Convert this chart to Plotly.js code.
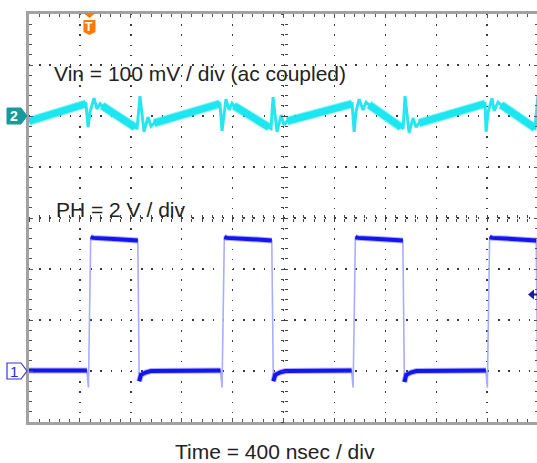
<!DOCTYPE html>
<html>
<head>
<meta charset="utf-8">
<script src="https://cdn.plot.ly/plotly-3.0.1.min.js"></script>
<style>
html,body{margin:0;padding:0;background:#fff;overflow:hidden;}
#chart{width:538px;height:463px;}
</style>
</head>
<body>
<div id="chart"></div>
<script>
// ---- data (time in ns) ----
const ch1_t = [0, 455, 467, 485, 505, 700, 855, 866, 880, 920, 960,
  1505, 1517, 1535, 1555, 1750, 1908, 1920, 1935, 1975, 2015,
  2535, 2547, 2565, 2585, 2780, 2938, 2950, 2965, 3005, 3045,
  3590, 3602, 3620, 3640, 3830, 3986, 3996, 4000];
const ch1_V = [0.02, 0.02, -0.65, 5.25, 5.22, 5.17, 5.12, -0.40, -0.15, -0.05, 0.0,
  0.02, -0.65, 5.25, 5.22, 5.17, 5.12, -0.40, -0.15, -0.05, 0.0,
  0.02, -0.65, 5.25, 5.22, 5.17, 5.12, -0.43, -0.15, -0.05, 0.0,
  0.02, -0.65, 5.25, 5.22, 5.17, 5.12, 0.3, -0.3];

const ch2_t = [0, 448, 464, 480, 511, 534, 558, 574, 833, 849, 872, 904, 935, 959, 983,
  1501, 1517, 1533, 1548, 1572, 1596, 1611, 1886, 1902, 1918, 1949, 1981, 2004, 2028,
  2539, 2555, 2570, 2594, 2625, 2649, 2672, 2924, 2940, 2955, 2987, 3018, 3042, 3065,
  3584, 3592, 3608, 3639, 3655, 3686, 3710, 3977, 3993, 4000];
const ch2_mV = [-10, 24, -22, 8, 35, 14, 24, 20, -22, -25, 39, -31, -2, -20, -14,
  24, -29, 8, 33, 12, 25, 20, -22, -25, 37, -31, 2, -18, -10,
  24, -31, 8, 33, 12, 27, 22, -22, -25, 39, -33, -4, -22, -14,
  24, -31, 8, 35, 10, 27, 22, -24, 31, 41];

const timeRange = [0, 4000];      // 10 div x 400 ns
const ch1Range = [-2, 14];        // 8 div x 2 V  (ground at -3 div)
const ch2Range = [-600, 200];     // 8 div x 100 mV (ground at +2 div)
const trigTime = 475;             // ns
const trigLevel = 3.0;            // V on ch1

const texts = {
  vin: 'Vin = 100 mV / div (ac coupled)',
  ph: 'PH = 2 V / div',
  time: 'Time = 400 nsec / div'
};

// split a waveform into the parts that satisfy keep(i) for segment i..i+1
function pick(t, v, keep) {
  const x = [], y = [];
  for (let i = 0; i < t.length - 1; i++) {
    if (keep(i)) {
      if (x.length === 0 || x[x.length - 1] !== t[i]) { x.push(t[i]); y.push(v[i]); }
      x.push(t[i + 1]); y.push(v[i + 1]);
    } else if (x.length && x[x.length - 1] !== null) { x.push(null); y.push(null); }
  }
  return {x, y};
}

const ch1Flat = pick(ch1_t, ch1_V, i => Math.abs(ch1_V[i + 1] - ch1_V[i]) < 0.5);
const ch2Ramp = pick(ch2_t, ch2_mV, i => (ch2_t[i + 1] - ch2_t[i]) >= 100);

const traces = [
  {x: ch2_t, y: ch2_mV, yaxis: 'y2', mode: 'lines', line: {color: '#28e6f0', width: 3}, hoverinfo: 'skip'},
  {x: ch2Ramp.x, y: ch2Ramp.y, yaxis: 'y2', mode: 'lines', line: {color: 'rgba(40,232,242,0.55)', width: 9}, hoverinfo: 'skip', connectgaps: false},
  {x: ch2Ramp.x, y: ch2Ramp.y, yaxis: 'y2', mode: 'lines', line: {color: '#1ce6f0', width: 7}, hoverinfo: 'skip', connectgaps: false},
  {x: ch1_t, y: ch1_V, mode: 'lines', line: {color: '#a8aeff', width: 1.6}, hoverinfo: 'skip'},
  {x: ch1Flat.x, y: ch1Flat.y, mode: 'lines', line: {color: 'rgba(60,60,255,0.4)', width: 6}, hoverinfo: 'skip', connectgaps: false},
  {x: ch1Flat.x, y: ch1Flat.y, mode: 'lines', line: {color: '#1414ee', width: 4}, hoverinfo: 'skip', connectgaps: false},
  // empty traces to activate the centre-line tick axes
  {x: [], y: [], xaxis: 'x2', yaxis: 'y', mode: 'lines', hoverinfo: 'skip'},
  {x: [], y: [], xaxis: 'x3', yaxis: 'y', mode: 'lines', hoverinfo: 'skip'},
  {x: [], y: [], xaxis: 'x', yaxis: 'y3', mode: 'lines', hoverinfo: 'skip'},
  {x: [], y: [], xaxis: 'x', yaxis: 'y4', mode: 'lines', hoverinfo: 'skip'}
];

const gridStyle = {
  showgrid: true, gridcolor: '#3a3a3a', gridwidth: 1.4, griddash: '1.4px,8.8px',
  zeroline: false, showticklabels: false,
  ticks: 'inside', ticklen: 4, tickcolor: '#555', tickwidth: 1,
  minor: {ticks: 'inside', ticklen: 3, tickcolor: '#555', tickwidth: 1, showgrid: false},
  showline: true, linecolor: '#a2a2a2', linewidth: 3, mirror: 'ticks', fixedrange: true
};
const centreTicks = {showgrid: false, zeroline: false, showline: false, showticklabels: false,
  ticklen: 3, tickcolor: '#444', tickwidth: 1, fixedrange: true};

const ch1Zero = (0 - ch1Range[0]) / (ch1Range[1] - ch1Range[0]);
const ch2Zero = (0 - ch2Range[0]) / (ch2Range[1] - ch2Range[0]);
const trigX = (trigTime - timeRange[0]) / (timeRange[1] - timeRange[0]);
const trigY = (trigLevel - ch1Range[0]) / (ch1Range[1] - ch1Range[0]);

const marker = 'M -22,-8 L -8,-8 L -2,0 L -8,8 L -22,8 Z';

const layout = {
  width: 538, height: 463,
  margin: {l: 29, r: 0, t: 14, b: 41},
  paper_bgcolor: '#ffffff', plot_bgcolor: '#ffffff',
  showlegend: false,
  font: {family: 'Liberation Sans, Arial, sans-serif', color: '#222'},
  xaxis: Object.assign({}, gridStyle, {range: timeRange, tick0: 0, dtick: 400, minor: Object.assign({}, gridStyle.minor, {dtick: 80})}),
  yaxis: Object.assign({}, gridStyle, {range: ch1Range, tick0: 0, dtick: 2, minor: Object.assign({}, gridStyle.minor, {dtick: 0.4})}),
  yaxis2: {range: ch2Range, overlaying: 'y', visible: false, fixedrange: true},
  xaxis2: Object.assign({}, centreTicks, {range: timeRange, overlaying: 'x', anchor: 'free', position: 0.5, tick0: 0, dtick: 80, ticks: 'inside'}),
  xaxis3: Object.assign({}, centreTicks, {range: timeRange, overlaying: 'x', anchor: 'free', position: 0.5, tick0: 0, dtick: 80, ticks: 'outside'}),
  yaxis3: Object.assign({}, centreTicks, {range: ch1Range, overlaying: 'y', anchor: 'free', position: 0.5, tick0: 0, dtick: 0.4, ticks: 'inside'}),
  yaxis4: Object.assign({}, centreTicks, {range: ch1Range, overlaying: 'y', anchor: 'free', position: 0.5, tick0: 0, dtick: 0.4, ticks: 'outside'}),
  shapes: [
    // channel 2 marker (filled teal)
    {type: 'path', xref: 'paper', yref: 'paper', xsizemode: 'pixel', ysizemode: 'pixel',
     xanchor: 0, yanchor: ch2Zero, path: marker, fillcolor: '#169a9a', line: {color: '#169a9a', width: 1}},
    // channel 1 marker (outlined blue)
    {type: 'path', xref: 'paper', yref: 'paper', xsizemode: 'pixel', ysizemode: 'pixel',
     xanchor: 0, yanchor: ch1Zero, path: marker, fillcolor: '#ffffff', line: {color: '#3535e0', width: 1.2}},
    // trigger position marker (orange)
    {type: 'path', xref: 'paper', yref: 'paper', xsizemode: 'pixel', ysizemode: 'pixel',
     xanchor: trigX, yanchor: 1, path: 'M -6,1 L 6,1 L 0,-4 Z', fillcolor: '#ff7a00', line: {width: 0}},
    {type: 'path', xref: 'paper', yref: 'paper', xsizemode: 'pixel', ysizemode: 'pixel',
     xanchor: trigX, yanchor: 1, path: 'M -6,-6 L 6,-6 L 6,-18 L 0,-21 L -6,-18 Z', fillcolor: '#ff7a00', line: {width: 0}},
    // trigger level marker (right edge)
    {type: 'path', xref: 'paper', yref: 'paper', xsizemode: 'pixel', ysizemode: 'pixel',
     xanchor: 1, yanchor: trigY, path: 'M -10,0 L -4,5 L -4,-5 Z', fillcolor: '#1a1aa8', line: {width: 0}},
    {type: 'path', xref: 'paper', yref: 'paper', xsizemode: 'pixel', ysizemode: 'pixel',
     xanchor: 1, yanchor: trigY, path: 'M -5,0 L -1,0', line: {color: '#1a1aa8', width: 2}}
  ],
  annotations: [
    {text: texts.vin, xref: 'paper', yref: 'paper', x: 0.046, y: 0.853, xanchor: 'left', yanchor: 'middle',
     showarrow: false, font: {size: 21, color: '#222'}},
    {text: texts.ph, xref: 'paper', yref: 'paper', x: 0.050, y: 0.522, xanchor: 'left', yanchor: 'middle',
     showarrow: false, font: {size: 21, color: '#222'}},
    {text: texts.time, xref: 'paper', yref: 'paper', x: 0.483, y: 0, yshift: -29, xanchor: 'center', yanchor: 'middle',
     showarrow: false, font: {size: 21, color: '#222'}},
    {text: '<b>2</b>', xref: 'paper', yref: 'paper', x: 0, y: ch2Zero, xshift: -15, xanchor: 'center', yanchor: 'middle',
     showarrow: false, font: {size: 14, color: '#ffffff'}},
    {text: '1', xref: 'paper', yref: 'paper', x: 0, y: ch1Zero, xshift: -15, xanchor: 'center', yanchor: 'middle',
     showarrow: false, font: {size: 15, color: '#2a2ae0'}},
    {text: '<b>T</b>', xref: 'paper', yref: 'paper', x: trigX, y: 1, yshift: -13, xanchor: 'center', yanchor: 'middle',
     showarrow: false, font: {size: 12, color: '#ffffff'}}
  ]
};

Plotly.newPlot('chart', traces, layout, {staticPlot: true, displayModeBar: false});
</script>
</body>
</html>
